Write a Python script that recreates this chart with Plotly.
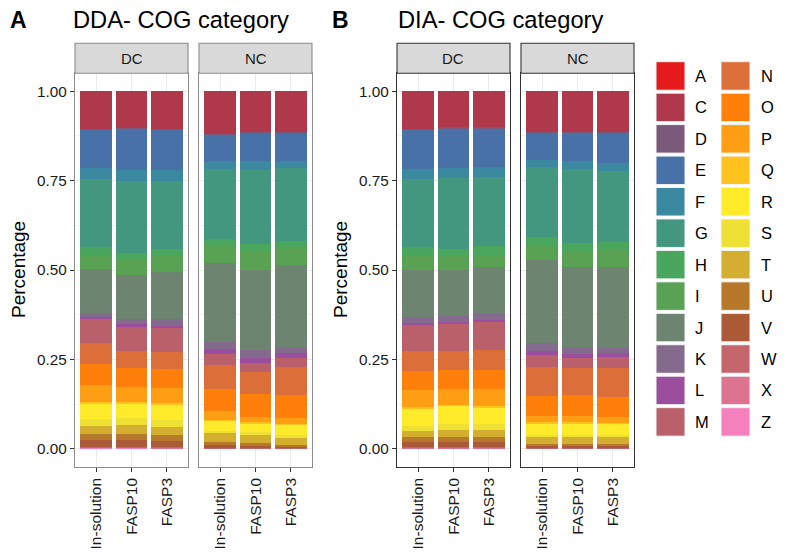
import plotly.graph_objects as go

# browser window and default body margin of the page
WIN_W, WIN_H, BODY_MARGIN = 787, 559, 8
W, H = WIN_W - 2 * BODY_MARGIN, WIN_H - 2 * BODY_MARGIN

categories = ["A", "C", "D", "E", "F", "G", "H", "I", "J", "K", "L", "M",
              "N", "O", "P", "Q", "R", "S", "T", "U", "V", "W", "X", "Z"]
colors = ["#E41A1C", "#B0384B", "#7A5A7B", "#4871A8", "#3A89A0", "#42977E",
          "#48A75C", "#59A254", "#6C8470", "#846A8D", "#9A4E9D", "#B9606A",
          "#DC6E3A", "#FF7F0B", "#FF9E13", "#FFC21F", "#FFEB2A", "#EFE133",
          "#D4AE2F", "#B8782A", "#AA5A37", "#C4666B", "#DC7390", "#F481BD"]
samples = ["In-solution", "FASP10", "FASP3"]
conditions = ["DC", "NC"]

# percentages per COG category (order as in `categories`)
dda_dc_insolution = [0, 10.7, 0.2, 10.7, 3.0, 19.0, 2.6, 3.5, 12.3, 1.2, 0.7, 6.5,
                     6.1, 5.6, 4.9, 0.3, 4.5, 1.9, 2.3, 1.6, 1.9, 0.2, 0.1, 0.2]
dda_dc_fasp10 = [0, 10.4, 0.2, 11.6, 3.1, 20.0, 1.9, 4.2, 12.3, 1.6, 0.7, 6.6,
                 4.9, 5.4, 4.1, 0.3, 4.3, 1.8, 2.4, 1.9, 1.8, 0.2, 0.1, 0.2]
dda_dc_fasp3 = [0, 10.7, 0.2, 11.1, 3.1, 19.2, 1.9, 4.5, 13.2, 1.9, 0.4, 6.8,
                4.7, 5.4, 4.3, 0.3, 4.3, 1.9, 2.3, 1.7, 1.7, 0.2, 0.1, 0.1]
dda_nc_insolution = [0, 12.1, 0.2, 7.4, 2.2, 19.5, 2.0, 4.7, 22.0, 2.2, 1.4, 3.0,
                     6.7, 6.1, 2.5, 0.2, 2.9, 0.5, 2.7, 0.8, 0.7, 0.1, 0.05, 0.05]
dda_nc_fasp10 = [0, 11.6, 0.2, 7.9, 2.3, 20.7, 2.1, 5.2, 22.5, 2.1, 1.4, 2.6,
                 6.1, 6.4, 1.6, 0.2, 2.6, 0.7, 2.3, 0.8, 0.5, 0.1, 0.05, 0.05]
dda_nc_fasp3 = [0, 11.6, 0.2, 7.7, 2.1, 20.5, 1.8, 4.9, 22.7, 1.9, 1.2, 2.5,
                7.8, 6.7, 1.6, 0.2, 2.9, 0.5, 2.2, 0.5, 0.3, 0.1, 0.05, 0.05]
dia_dc_insolution = [0, 10.7, 0.2, 11.0, 2.7, 19.1, 2.5, 3.8, 13.2, 1.8, 0.6, 7.2,
                     5.5, 5.4, 4.7, 0.3, 5.0, 1.4, 1.8, 1.4, 1.4, 0.15, 0.05, 0.1]
dia_dc_fasp10 = [0, 10.2, 0.2, 11.2, 2.8, 19.7, 2.1, 3.8, 13.0, 1.6, 0.4, 7.8,
                 5.3, 5.2, 4.5, 0.3, 5.1, 1.7, 2.0, 1.4, 1.4, 0.15, 0.05, 0.1]
dia_dc_fasp3 = [0, 10.2, 0.2, 10.9, 2.8, 19.2, 2.5, 3.5, 13.2, 1.6, 0.6, 7.8,
                5.6, 5.3, 4.7, 0.3, 4.8, 1.7, 2.0, 1.4, 1.4, 0.15, 0.05, 0.1]
dia_nc_insolution = [0, 11.6, 0.2, 7.5, 2.1, 19.5, 2.5, 4.0, 23.2, 2.2, 1.0, 3.3,
                     8.2, 5.6, 1.8, 0.2, 3.4, 0.4, 2.1, 0.6, 0.4, 0.1, 0.05, 0.05]
dia_nc_fasp10 = [0, 11.4, 0.2, 7.9, 2.4, 20.6, 2.3, 4.4, 22.3, 2.2, 0.9, 3.0,
                 7.5, 5.8, 1.8, 0.2, 3.4, 0.4, 2.1, 0.6, 0.4, 0.1, 0.05, 0.05]
dia_nc_fasp3 = [0, 11.6, 0.2, 8.4, 2.1, 19.9, 2.2, 4.9, 22.5, 1.6, 1.0, 3.0,
                8.2, 5.5, 1.8, 0.2, 3.2, 0.4, 2.1, 0.6, 0.4, 0.1, 0.05, 0.05]

y_ticks = [0.0, 0.25, 0.5, 0.75, 1.0]

panel_data = [
    [dda_dc_insolution, dda_dc_fasp10, dda_dc_fasp3],
    [dda_nc_insolution, dda_nc_fasp10, dda_nc_fasp3],
    [dia_dc_insolution, dia_dc_fasp10, dia_dc_fasp3],
    [dia_nc_insolution, dia_nc_fasp10, dia_nc_fasp3],
]


def px(x):
    return (x - BODY_MARGIN) / W


def py(y):
    return 1 - (y - BODY_MARGIN) / H


# layout geometry (window pixels)
panel_x = [(75, 188), (199, 312), (397, 510), (521, 634)]
panel_top, panel_bot = 73.3, 466.7
strip_top = 43.3
border_cols = ["#8C8C8C", "#8C8C8C", "#333333", "#333333"]
font_family = "Liberation Sans, Arial, sans-serif"

fig = go.Figure()
for p, bars in enumerate(panel_data):
    xa = "x" if p == 0 else f"x{p + 1}"
    ya = "y" if p == 0 else f"y{p + 1}"
    totals = [sum(b) for b in bars]
    for ci in reversed(range(len(categories))):
        fig.add_trace(go.Bar(
            x=samples,
            y=[bars[s][ci] / totals[s] for s in range(3)],
            marker=dict(color=colors[ci], line=dict(width=0)),
            width=0.9, xaxis=xa, yaxis=ya, showlegend=False,
            name=categories[ci],
            hovertemplate=categories[ci] + ": %{y:.3f}<extra></extra>",
        ))

layout = dict(
    width=W, height=H, barmode="stack", bargap=0,
    margin=dict(l=0, r=0, t=0, b=0),
    plot_bgcolor="white", paper_bgcolor="white",
    font=dict(family=font_family, color="#1A1A1A"),
)
shapes = []
annotations = []
for p in range(4):
    xk = "xaxis" if p == 0 else f"xaxis{p + 1}"
    yk = "yaxis" if p == 0 else f"yaxis{p + 1}"
    ya = "y" if p == 0 else f"y{p + 1}"
    x0, x1 = panel_x[p]
    layout[xk] = dict(
        domain=[px(x0), px(x1)], anchor=ya, type="category",
        categoryorder="array", categoryarray=samples,
        range=[-0.6, 2.6], showgrid=True, gridcolor="#EBEBEB", gridwidth=1.1,
        showline=True, mirror=True, linecolor=border_cols[p], linewidth=1.1,
        ticks="outside", ticklen=4, tickcolor="#333333", tickwidth=1,
        tickangle=-90, tickfont=dict(size=15.5, color="#1A1A1A"),
        zeroline=False, fixedrange=True,
    )
    layout[yk] = dict(
        domain=[py(panel_bot), py(panel_top)],
        anchor="x" if p == 0 else f"x{p + 1}",
        range=[-0.05, 1.05], tickvals=y_ticks, tickformat=".2f",
        showgrid=True, gridcolor="#EBEBEB", gridwidth=1.1,
        minor=dict(tick0=0.125, dtick=0.25, showgrid=True,
                   gridcolor="#F2F2F2", gridwidth=0.6),
        showline=True, mirror=True, linecolor=border_cols[p], linewidth=1.1,
        ticks="outside" if p in (0, 2) else "", ticklen=4,
        tickcolor="#333333", tickwidth=1,
        showticklabels=p in (0, 2),
        tickfont=dict(size=15.3, color="#1A1A1A"),
        zeroline=False, fixedrange=True,
    )
    # facet strip
    shapes.append(dict(type="rect", xref="paper", yref="paper",
                       x0=px(x0), x1=px(x1), y0=py(panel_top), y1=py(strip_top),
                       fillcolor="#D9D9D9", line=dict(color=border_cols[p], width=1.1),
                       layer="above"))
    annotations.append(dict(text=conditions[p % 2], xref="paper", yref="paper",
                            x=px((x0 + x1) / 2), y=py((panel_top + strip_top) / 2),
                            showarrow=False, xanchor="center", yanchor="middle",
                            font=dict(size=15, color="#1A1A1A")))

# titles and panel letters
for letter, title, lx, tx, ylab_x in [("A", "DDA- COG category", 8, 71, 18),
                                       ("B", "DIA- COG category", 330, 396, 340)]:
    annotations.append(dict(text=f"<b>{letter}</b>", xref="paper", yref="paper",
                            x=px(lx), y=py(19.5), xanchor="left", yanchor="middle",
                            showarrow=False, font=dict(size=23, color="black")))
    annotations.append(dict(text=title, xref="paper", yref="paper",
                            x=px(tx), y=py(19.5), xanchor="left", yanchor="middle",
                            showarrow=False, font=dict(size=23.7, color="black")))
    annotations.append(dict(text="Percentage", xref="paper", yref="paper",
                            x=px(ylab_x), y=py(270), xanchor="center", yanchor="middle",
                            textangle=-90, showarrow=False,
                            font=dict(size=19, color="black")))

# legend (two columns of keys)
key_w, key_h, pitch = 29, 28.5, 31.45
col_x = [656, 721]
lab_x = [693, 759]
first_top = 61.7
for i, (cat, col) in enumerate(zip(categories, colors)):
    c, r = divmod(i, 12)
    top = first_top + r * pitch
    shapes.append(dict(type="rect", xref="paper", yref="paper",
                       x0=px(col_x[c]), x1=px(col_x[c] + key_w),
                       y0=py(top + key_h), y1=py(top),
                       fillcolor=col, line=dict(color="#F4F4F4", width=1)))
    annotations.append(dict(text=cat, xref="paper", yref="paper",
                            x=px(lab_x[c]), y=py(top + key_h / 2),
                            xanchor="left", yanchor="middle", showarrow=False,
                            font=dict(size=16.5, color="black")))

layout["shapes"] = shapes
layout["annotations"] = annotations
fig.update_layout(**layout)
fig.write_html("out.html")
